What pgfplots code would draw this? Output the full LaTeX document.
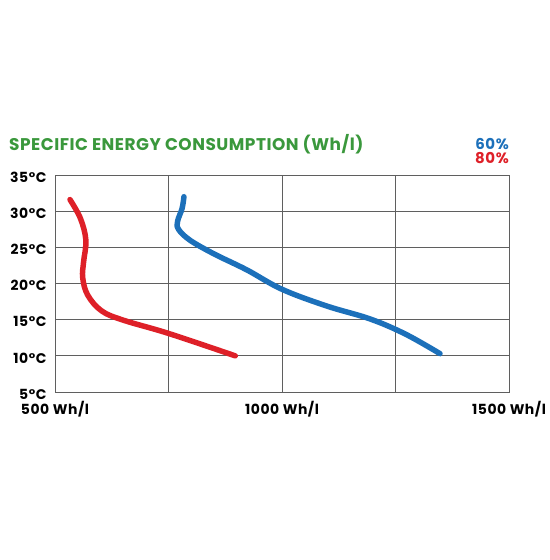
\documentclass[border=0pt]{standalone}
\usepackage{fontspec}
\setmainfont{Poppins}[BoldFont={* Bold}]
\usepackage{pgfplots}
\pgfplotsset{compat=1.18}
\definecolor{ttlgreen}{RGB}{58,152,60}
\definecolor{cred}{RGB}{222,32,40}
\definecolor{cblue}{RGB}{28,112,186}
\definecolor{grd}{RGB}{95,95,95}
\newfontfamily\lblfont{Poppins}[BoldFont={* Bold}, LetterSpace=4]
\newfontfamily\ttlfont{Poppins}[BoldFont={* Bold}, LetterSpace=3]
\begin{document}
\begin{tikzpicture}[x=1bp,y=1bp]
\path[use as bounding box] (0,0) rectangle (550,-560);
\begin{axis}[
  at={(55bp,-392bp)}, anchor=south west,
  scale only axis, width=454bp, height=217bp,
  xmin=500, xmax=1500, ymin=5, ymax=35,
  xtick={500,750,1000,1250,1500},
  ytick={5,10,15,20,25,30,35},
  grid=major, major grid style={grd, line width=0.9pt},
  axis line style={grd, line width=0.9pt},
  major tick length=0pt,
  /pgf/number format/assume math mode=true,
  xticklabel={\ifdim\tick pt=750pt\else\ifdim\tick pt=1250pt\else\pgfmathprintnumber[1000 sep={}]{\tick} Wh/l\fi\fi},
  yticklabel={\pgfmathprintnumber{\tick}°C},
  ticklabel style={font=\lblfont\bfseries\fontsize{14}{14}\selectfont, text=black},
  xticklabel style={yshift=-6bp},
  yticklabel style={xshift=-5bp, yshift=-2bp},
  clip=false,
]
\addplot[cred, line width=5.5pt, line cap=round, line join=round, smooth, tension=0.6] coordinates {
(533,31.6) (556,29.0) (568,26.0) (563,23.0) (561,20.8) (572,18.4) (603,16.2) (652,14.9) (750,13.1) (897,10.0)
};
\addplot[cblue, line width=5.5pt, line cap=round, line join=round, smooth, tension=0.6] coordinates {
(784,32.0) (780,30.4) (770,28.6) (772,27.5) (797,26.0) (850,24.1) (922,21.9) (1000,19.2) (1098,16.9) (1194,15.1) (1272,13.0) (1348,10.3)
};
\end{axis}
\node[anchor=west, inner sep=0pt, text=ttlgreen, font=\ttlfont\bfseries\fontsize{17}{17}\selectfont] at (9,-144) {SPECIFIC ENERGY CONSUMPTION (Wh/l)};
\node[anchor=east, inner sep=0pt, text=cblue, font=\lblfont\bfseries\fontsize{15}{15}\selectfont] at (509,-144) {60\%};
\node[anchor=east, inner sep=0pt, text=cred, font=\lblfont\bfseries\fontsize{15}{15}\selectfont] at (509,-158.5) {80\%};
\end{tikzpicture}
\end{document}
